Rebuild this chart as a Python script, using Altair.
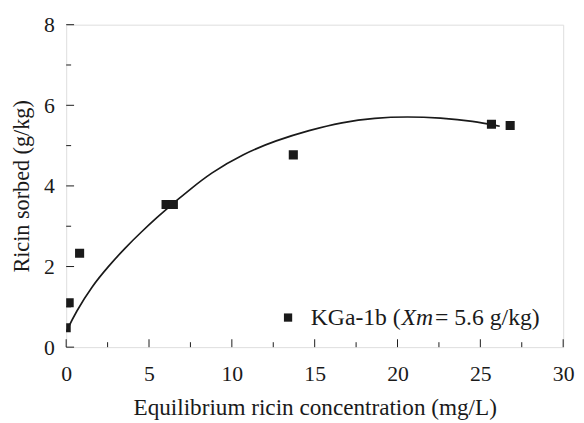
import altair as alt
import pandas as pd

# measured points
data_x = [0.0, 0.18, 0.81, 6.03, 6.47, 13.71, 25.67, 26.8]
data_y = [0.48, 1.10, 2.33, 3.54, 3.54, 4.77, 5.53, 5.50]

# fitted curve
curve_x = [0.0, 0.58, 1.57, 2.56, 3.55, 4.54, 5.54, 6.13, 6.73, 7.32, 8.71, 10.7, 12.68, 14.66,
           16.65, 18.63, 20.6, 22.6, 24.58, 26.17]
curve_y = [0.38, 0.87, 1.52, 2.01, 2.46, 2.86, 3.24, 3.45, 3.66, 3.86, 4.32, 4.80, 5.13, 5.38,
           5.58, 5.69, 5.72, 5.69, 5.61, 5.48]

x_major = [0, 5, 10, 15, 20, 25, 30]
x_minor = [2.5, 7.5, 12.5, 17.5, 22.5, 27.5]
y_major = [0, 2, 4, 6, 8]
y_minor = [1, 3, 5, 7]

legend_parts = ["KGa-1b (", "Xm", "= 5.6 g/kg)"]

W, H = 504, 327
FONT = "Liberation Serif"
INK = "#1a1a1a"

xs = alt.Scale(domain=[0, 30], nice=False, zero=False)
ys = alt.Scale(domain=[0, 8], nice=False, zero=False)

pts = pd.DataFrame({"x": data_x, "y": data_y})
crv = pd.DataFrame({"x": curve_x, "y": curve_y})

points = alt.Chart(pts).mark_square(size=85, color=INK, opacity=1, clip=True).encode(
    x=alt.X("x:Q", scale=xs, axis=alt.Axis(
        title="Equilibrium ricin concentration (mg/L)", values=x_major, ticks=False, domain=False,
        grid=False, labelFont=FONT, labelFontSize=22, labelColor=INK, labelPadding=17,
        titleFont=FONT, titleFontSize=23.5, titleFontWeight="normal", titleColor=INK, titlePadding=11,
        labelFlush=False)),
    y=alt.Y("y:Q", scale=ys, axis=alt.Axis(
        title="Ricin sorbed (g/kg)", values=y_major, ticks=False, domain=False, grid=False,
        labelFont=FONT, labelFontSize=22, labelColor=INK, labelPadding=12,
        titleFont=FONT, titleFontSize=22.5, titleFontWeight="normal", titleColor=INK, titlePadding=10,
        labelFlush=False)),
)

line = alt.Chart(crv).mark_line(color=INK, strokeWidth=1.7, interpolate="basis", clip=True).encode(
    x=alt.X("x:Q", scale=xs), y=alt.Y("y:Q", scale=ys)
)

def xticks(vals, L):
    return alt.Chart(pd.DataFrame({"v": vals})).mark_rule(color=INK, strokeWidth=1).encode(
        x=alt.X("v:Q", scale=xs), y=alt.value(H), y2=alt.value(H - L))

def yticks(vals, L):
    return alt.Chart(pd.DataFrame({"v": vals})).mark_rule(color=INK, strokeWidth=1).encode(
        y=alt.Y("v:Q", scale=ys), x=alt.value(0), x2=alt.value(L))

one = pd.DataFrame({"a": [0]})
leg_sq = alt.Chart(one).mark_square(size=70, color=INK, opacity=1).encode(
    x=alt.value(225), y=alt.value(297))
leg_t1 = alt.Chart(one).mark_text(font=FONT, fontSize=24, color=INK, align="left", baseline="alphabetic").encode(
    x=alt.value(248), y=alt.value(305), text=alt.value(legend_parts[0]))
leg_t2 = alt.Chart(one).mark_text(font=FONT, fontSize=24, color=INK, align="left", baseline="alphabetic",
                                   fontStyle="italic").encode(
    x=alt.value(340), y=alt.value(305), text=alt.value(legend_parts[1]))
leg_t3 = alt.Chart(one).mark_text(font=FONT, fontSize=24, color=INK, align="left", baseline="alphabetic").encode(
    x=alt.value(374), y=alt.value(305), text=alt.value(legend_parts[2]))

chart = alt.layer(
    points, line,
    xticks(x_major, 8), xticks(x_minor, 5), yticks(y_major, 8), yticks(y_minor, 5),
    leg_sq, leg_t1, leg_t2, leg_t3,
).properties(
    width=W, height=H,
    autosize=alt.AutoSizeParams(type="none"),
    padding={"left": 59, "top": 14, "right": 13, "bottom": 74},
).configure_view(stroke=INK, strokeWidth=1.2).configure(background="white")

chart.save("out.html", embed_options={"renderer": "svg", "actions": False})
